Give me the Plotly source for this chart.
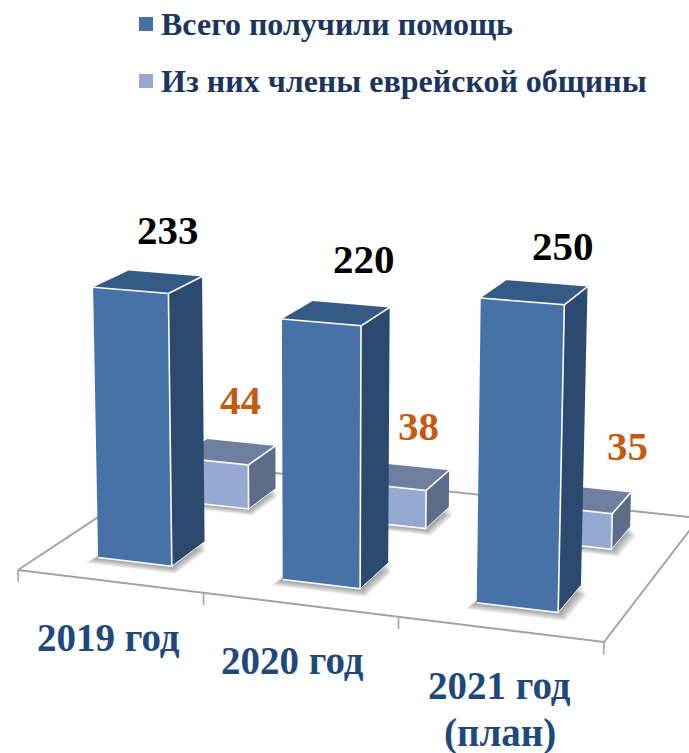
import numpy as np
import plotly.graph_objects as go

# ---- data ----
categories = ["2019 год", "2020 год", "2021 год<br>(план)"]
series_names = ["Всего получили помощь", "Из них члены еврейской общины"]
total_helped = [233, 220, 250]
community_members = [44, 38, 35]

# ---- styles ----
FONT = "Liberation Serif"
FRONT = ["#4672A8", "#95A9D1"]
SIDE = ["#2C4A70", "#5D6C88"]
TOP = ["#365A86", "#6F7F9F"]
LABEL = ["#000000", "#C55A11"]
GRID = "#A3A3A3"
NAVY = "#1F497D"
LEGEND_TEXT = "#1B365D"

# ---- 3D chart space -> page projection (perspective camera) ----
FLOOR_UV = [(0, 0), (3, 0), (3, 1), (0, 1)]
FLOOR_PX = [(18, 570), (604, 642), (699, 518), (180, 463)]
VANISH = (320.0, 12500.0)
Z_SCALE = 9.8e-5
Z_BASE = 3.8

rows, rhs = [], []
for (u, v), (x, y) in zip(FLOOR_UV, FLOOR_PX):
    rows.append([u, v, 1, 0, 0, 0, -u * x, -v * x]); rhs.append(x)
    rows.append([0, 0, 0, u, v, 1, -u * y, -v * y]); rhs.append(y)
H = np.append(np.linalg.solve(rows, rhs), 1).reshape(3, 3)
CZ = -Z_SCALE * np.array([VANISH[0], VANISH[1], 1.0])


def project(u, v, z=Z_BASE):
    p = H @ np.array([u, v, 1.0]) + (z - Z_BASE) * CZ
    return p[0] / p[2], p[1] / p[2]


fig = go.Figure()


def poly(points, color):
    xs, ys = zip(*points)
    fig.add_trace(go.Scatter(x=list(xs) + [xs[0]], y=list(ys) + [ys[0]], mode="lines", fill="toself",
                             fillcolor=color, line=dict(width=0), hoverinfo="skip", showlegend=False))


def stroke(points, color, width):
    xs, ys = zip(*points)
    fig.add_trace(go.Scatter(x=list(xs), y=list(ys), mode="lines", line=dict(color=color, width=width),
                             hoverinfo="skip", showlegend=False))


# floor frame and ticks
stroke([project(0, 1), project(0, 0), project(3, 0), project(3, 1), project(0, 1)], GRID, 2)
for i in range(4):
    stroke([project(i, 0), project(i, 0, Z_BASE - 10)], GRID, 1.6)

BAR_U = (0.289, 0.694)
DEPTH = [(0.157, 0.365), (0.664, 0.860)]


def shadow(u0, u1, v0, v1):
    for k in range(7):
        d = 0.009 * (k + 1)
        poly([project(u0 - d * .35, v0 - d * .8), project(u1 + d, v0 - d * .8),
              project(u1 + d, v1 - d), project(u0, v1 - d)], "rgba(60,60,60,0.085)")


def box(u0, u1, v0, v1, z, s):
    a, b, c = project(u0, v0), project(u1, v0), project(u1, v1)
    a2, b2, c2, d2 = project(u0, v0, z), project(u1, v0, z), project(u1, v1, z), project(u0, v1, z)
    poly([a, b, b2, a2], FRONT[s])
    poly([b, c, c2, b2], SIDE[s])
    poly([a2, b2, c2, d2], TOP[s])
    stroke([a, b, b2, a2], "#FFFFFF", 1.6)
    stroke([b2, c2], "#FFFFFF", 1.6)
    stroke([b, c], "#F4F6F9", 1)


for s in (1, 0):
    vals = community_members if s else total_helped
    for i, val in enumerate(vals):
        shadow(i + BAR_U[0], i + BAR_U[1], *DEPTH[s])
        box(i + BAR_U[0], i + BAR_U[1], *DEPTH[s], val, s)

# value labels: offset from the centre of each bar top
OFFSETS = [[(20, -52), (28, -54), (28, -46)], [(13, -52), (17, -50), (44, -53)]]
for s, vals in enumerate((total_helped, community_members)):
    for i, val in enumerate(vals):
        x, y = project(i + sum(BAR_U) / 2, sum(DEPTH[s]) / 2, val)
        dx, dy = OFFSETS[s][i]
        fig.add_annotation(x=x + dx, y=y + dy, text=f"<b>{val}</b>", showarrow=False,
                           font=dict(family=FONT, size=41, color=LABEL[s]))

# category labels, one annotation per line
CAT_DX = [-1, -7, 0]
for i, cat in enumerate(categories):
    x, y = project(i + 0.5, 0)
    for j, line in enumerate(cat.split("<br>")):
        fig.add_annotation(x=x + CAT_DX[i], y=y + 56 + 48 * j, text=f"<b>{line}</b>", showarrow=False,
                           font=dict(family=FONT, size=39, color=NAVY))

# key: one square marker and one text per series
KEY_Y = [24, 81]
for name, color, y in zip(series_names, FRONT, KEY_Y):
    fig.add_trace(go.Scatter(x=[146], y=[y], mode="markers", name=name, hoverinfo="name", showlegend=False,
                             marker=dict(symbol="square", size=14, color=color)))
    fig.add_annotation(x=159, y=y, xanchor="left", text=f"<b>{name}</b>", showarrow=False,
                       font=dict(family=FONT, size=32, color=LEGEND_TEXT))

fig.update_xaxes(range=[0, 689], visible=False)
fig.update_yaxes(range=[753, 0], visible=False)
fig.update_layout(
    width=689, height=753, margin=dict(l=0, r=0, t=0, b=0),
    plot_bgcolor="#FFFFFF", paper_bgcolor="#FFFFFF", showlegend=False,
)
fig.write_html("out.html", post_script="document.body.style.margin='0';",
               config={"displayModeBar": False})
